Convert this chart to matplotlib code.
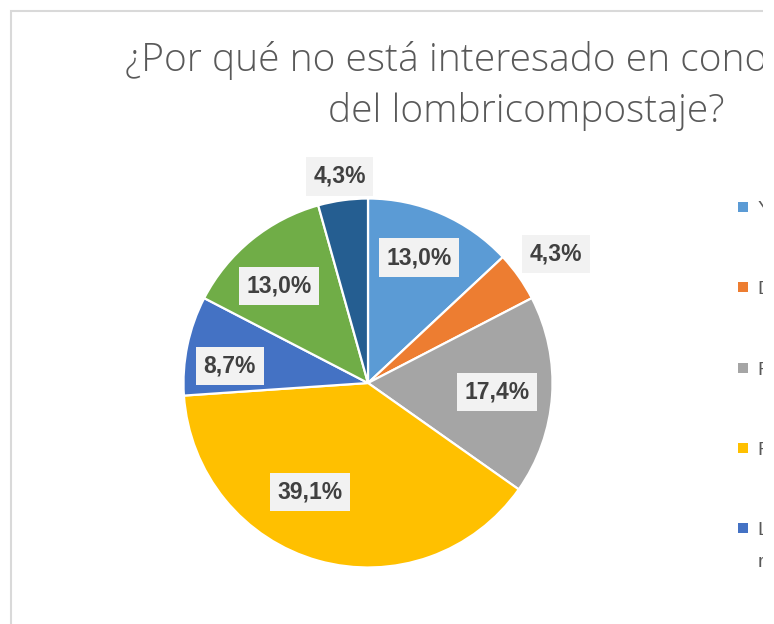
import matplotlib
matplotlib.use("Agg")
import matplotlib.pyplot as plt
import numpy as np
from matplotlib.patches import Rectangle

# ---- data ----
categories = [
    "Ya lo conoce",
    "Desconoce su utilidad",
    "Falta de tiempo",
    "Falta de espacio",
    "Le resulta complicado el manejo de\nresiduos",
    "No le interesa",
    "Otro",
]
counts = [3, 1, 4, 9, 2, 3, 1]
colors = ["#5B9BD5", "#ED7D31", "#A5A5A5", "#FFC000", "#4472C4", "#70AD47", "#255E91"]
title_line1 = "¿Por qué no está interesado en conocimientos"
title_line2 = "del lombricompostaje?"

# label layout (radial fraction, angular shift in degrees clockwise)
label_radius = [0.734, 1.234, 0.70, 0.672, 0.754, 0.713, 1.13]
label_shift = [-1.4, 0.8, 0.0, 12.4, -4.7, -3.4, 0.0]

W, H = 774, 624
VIS_RIGHT = 763  # the reference picture is cut off here
fig = plt.figure(figsize=(W / 100, H / 100), dpi=100)
fig.patch.set_facecolor("white")

# chart frame (cut off on right / bottom)
fig.patches.append(Rectangle((10.5 / W, -0.05), 1.1, 1 - 10.5 / H + 0.05,
                             transform=fig.transFigure, fill=False,
                             edgecolor="#D9D9D9", linewidth=1.5))

# pie axes: centre (368, 383) px, radius 184.5 px
cx, cy, r = 368, 383, 184.5
ax = fig.add_axes([(cx - r) / W, (H - cy - r) / H, 2 * r / W, 2 * r / H])
wedges, _ = ax.pie(counts, colors=colors, startangle=90, counterclock=False,
                   radius=1.0,
                   wedgeprops=dict(edgecolor="white", linewidth=1.6))
ax.set_xlim(-1, 1)
ax.set_ylim(-1, 1)
ax.axis("off")

total = float(sum(counts))
cum = 0.0
for i, c in enumerate(counts):
    mid = (cum + c / 2) / total * 360.0 + label_shift[i]
    cum += c
    th = np.deg2rad(90 - mid)
    rr = label_radius[i]
    txt = f"{c / total * 100:.1f}%".replace(".", ",")
    ax.text(rr * np.cos(th), rr * np.sin(th), txt, ha="center", va="center",
            fontsize=16.5, fontweight="bold", family="Liberation Sans",
            color="#404040",
            bbox=dict(boxstyle="square,pad=0.33", facecolor="#F2F2F2",
                      edgecolor="none"))

# title
title_font = dict(fontsize=28, family=["Open Sans", "Liberation Sans"],
                  fontweight="light", color="#595959")
fig.text(125 / W, 1 - 71 / H, title_line1, ha="left", va="baseline", **title_font)
fig.text(526 / W, 1 - 122 / H, title_line2, ha="center", va="baseline", **title_font)

# legend (only the first five entries fit in the visible area)
leg_y0, leg_dy, line_dy = 207, 80.3, 32
for i in range(5):
    yc = leg_y0 + i * leg_dy
    fig.patches.append(Rectangle((738 / W, 1 - (yc + 5) / H), 10 / W, 10 / H,
                                 transform=fig.transFigure,
                                 facecolor=colors[i], edgecolor="none"))
    for j, line in enumerate(categories[i].split("\n")):
        fig.text(758 / W, 1 - (yc + 7 + j * line_dy) / H, line, ha="left",
                 va="baseline", fontsize=14, family="Liberation Sans",
                 color="#595959")

# blank strip where the reference picture ends
fig.patches.append(Rectangle((VIS_RIGHT / W, 0), 1, 1, transform=fig.transFigure,
                             facecolor="white", edgecolor="none", zorder=10))

fig.savefig("out.png", dpi=100)
